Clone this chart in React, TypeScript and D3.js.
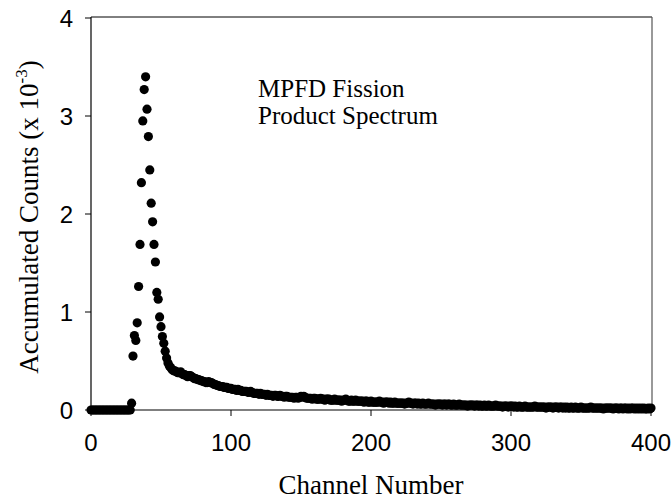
import React from "react";
import * as d3 from "d3";

const baselineStart = 0;
const baselineValues = Array(29).fill(0) as number[];

const peakStart = 29;
const peakValues = [
  0.07, 0.55, 0.76, 0.71, 0.89, 1.26, 1.69, 2.32, 2.95, 3.27, 3.4, 3.07, 2.79,
  2.45, 2.11, 1.92, 1.69, 1.51, 1.2, 1.13, 0.95, 0.85, 0.75,
];

const tailStart = 52;
const tailValues = [
  0.68, 0.6, 0.53, 0.48, 0.45, 0.43, 0.41, 0.4, 0.4, 0.39,
  0.38, 0.38, 0.39, 0.37, 0.36, 0.36, 0.35, 0.34, 0.35, 0.35,
  0.34, 0.33, 0.32, 0.32, 0.31, 0.31, 0.3, 0.3, 0.29, 0.29,
  0.28, 0.28, 0.29, 0.28, 0.28, 0.27, 0.26, 0.26, 0.25, 0.25,
  0.24, 0.24, 0.24, 0.23, 0.23, 0.23, 0.22, 0.22, 0.22, 0.21,
  0.21, 0.21, 0.2, 0.21, 0.2, 0.2, 0.19, 0.19, 0.19, 0.19,
  0.18, 0.18, 0.19, 0.18, 0.17, 0.17, 0.17, 0.17, 0.16, 0.17,
  0.16, 0.16, 0.16, 0.15, 0.16, 0.15, 0.15, 0.15, 0.14, 0.15,
  0.15, 0.14, 0.14, 0.15, 0.14, 0.14, 0.13, 0.14, 0.14, 0.13,
  0.13, 0.13, 0.13, 0.12, 0.13, 0.13, 0.12, 0.13, 0.14, 0.13,
  0.14, 0.13, 0.12, 0.12, 0.12, 0.12, 0.11, 0.12, 0.12, 0.11,
  0.11, 0.11, 0.12, 0.11, 0.11, 0.1, 0.11, 0.11, 0.11, 0.1,
  0.1, 0.1, 0.11, 0.1, 0.1, 0.1, 0.1, 0.09, 0.1, 0.1,
  0.11, 0.1, 0.09, 0.09, 0.1, 0.09, 0.09, 0.1, 0.09, 0.09,
  0.09, 0.09, 0.09, 0.08, 0.09, 0.09, 0.08, 0.08, 0.09, 0.08,
  0.08, 0.08, 0.08, 0.08, 0.09, 0.08, 0.08, 0.07, 0.08, 0.08,
  0.08, 0.07, 0.08, 0.07, 0.07, 0.08, 0.07, 0.07, 0.07, 0.07,
  0.07, 0.07, 0.06, 0.07, 0.07, 0.08, 0.07, 0.07, 0.06, 0.07,
  0.07, 0.06, 0.07, 0.06, 0.06, 0.07, 0.06, 0.06, 0.06, 0.07,
  0.06, 0.06, 0.06, 0.06, 0.05, 0.06, 0.06, 0.06, 0.06, 0.05,
  0.06, 0.06, 0.05, 0.06, 0.06, 0.05, 0.05, 0.06, 0.05, 0.05,
  0.05, 0.06, 0.05, 0.05, 0.05, 0.05, 0.05, 0.04, 0.05, 0.05,
  0.05, 0.05, 0.04, 0.05, 0.05, 0.04, 0.05, 0.04, 0.04, 0.05,
  0.04, 0.04, 0.05, 0.04, 0.04, 0.04, 0.04, 0.05, 0.04, 0.04,
  0.04, 0.04, 0.03, 0.04, 0.04, 0.04, 0.03, 0.04, 0.04, 0.04,
  0.03, 0.04, 0.03, 0.03, 0.04, 0.03, 0.03, 0.03, 0.04, 0.03,
  0.03, 0.03, 0.03, 0.03, 0.03, 0.04, 0.03, 0.03, 0.03, 0.03,
  0.03, 0.03, 0.03, 0.02, 0.03, 0.03, 0.03, 0.03, 0.02, 0.03,
  0.03, 0.03, 0.02, 0.03, 0.03, 0.02, 0.03, 0.02, 0.03, 0.02,
  0.02, 0.03, 0.02, 0.02, 0.03, 0.02, 0.02, 0.02, 0.03, 0.02,
  0.02, 0.02, 0.02, 0.02, 0.02, 0.03, 0.02, 0.02, 0.02, 0.02,
  0.02, 0.02, 0.02, 0.02, 0.01, 0.02, 0.02, 0.02, 0.02, 0.02,
  0.02, 0.01, 0.02, 0.02, 0.02, 0.01, 0.02, 0.02, 0.01, 0.02,
  0.02, 0.01, 0.02, 0.01, 0.02, 0.02, 0.01, 0.02, 0.01, 0.02,
  0.01, 0.02, 0.01, 0.02, 0.01, 0.01, 0.02, 0.01, 0.02,
];

const xTicks = [0, 100, 200, 300, 400];
const yTicks = [0, 1, 2, 3, 4];
const xTitle = "Channel Number";
const yTitleMain = "Accumulated Counts (x 10";
const yTitleSup = "-3";
const annotationLines = ["MPFD Fission", "Product Spectrum"];

type Pt = { x: number; y: number };
const toPts = (start: number, vals: number[]): Pt[] =>
  vals.map((v, i) => ({ x: start + i, y: v }));

const data: Pt[] = [
  ...toPts(baselineStart, baselineValues),
  ...toPts(peakStart, peakValues),
  ...toPts(tailStart, tailValues),
];

export default function App() {
  const W = 671;
  const H = 499;
  const left = 91;
  const right = 651;
  const top = 18;
  const bottom = 410;

  const x = d3.scaleLinear().domain([0, 400]).range([left, right]);
  const y = d3.scaleLinear().domain([0, 4]).range([bottom, top]);

  return (
    <svg
      width={W}
      height={H}
      style={{ position: "absolute", left: 0, top: 0, background: "#fff" }}
    >
      {/* frame top/right */}
      <line x1={left} x2={right + 1} y1={top - 1} y2={top - 1} stroke="#000" strokeWidth={1} />
      <line x1={right + 1} x2={right + 1} y1={top - 1} y2={bottom} stroke="#555" strokeWidth={1.2} />
      {/* axes */}
      <line x1={left} x2={left} y1={top - 1} y2={bottom} stroke="#000" strokeWidth={1.2} />
      <line x1={left} x2={right + 1} y1={bottom} y2={bottom} stroke="#000" strokeWidth={1.2} />
      {yTicks.map((t) => (
        <g key={"y" + t}>
          <line x1={left - 6} x2={left} y1={y(t)} y2={y(t)} stroke="#000" strokeWidth={1} />
          <text
            x={73}
            y={y(t)}
            dy="0.36em"
            textAnchor="end"
            fontFamily="Liberation Sans, Arial, sans-serif"
            fontSize={24}
          >
            {t}
          </text>
        </g>
      ))}
      {xTicks.map((t) => (
        <g key={"x" + t}>
          <line x1={x(t)} x2={x(t)} y1={bottom} y2={bottom + 6} stroke="#000" strokeWidth={1} />
          <text
            x={x(t)}
            y={451}
            textAnchor="middle"
            fontFamily="Liberation Sans, Arial, sans-serif"
            fontSize={24}
          >
            {t}
          </text>
        </g>
      ))}
      {data.map((d, i) => (
        <circle key={i} cx={x(d.x)} cy={y(d.y)} r={4.6} fill="#000" />
      ))}
      <text
        x={(left + right) / 2}
        y={494}
        textAnchor="middle"
        fontFamily="Liberation Serif, Times New Roman, serif"
        fontSize={27}
      >
        {xTitle}
      </text>
      <text
        transform={`translate(38, ${(top + bottom) / 2 + 3}) rotate(-90)`}
        textAnchor="middle"
        fontFamily="Liberation Serif, Times New Roman, serif"
        fontSize={27}
      >
        {yTitleMain}
        <tspan dy={-11} fontSize={17}>
          {yTitleSup}
        </tspan>
        <tspan dy={11}>)</tspan>
      </text>
      {annotationLines.map((line, i) => (
        <text
          key={line}
          x={258}
          y={97 + i * 27}
          fontFamily="Liberation Serif, Times New Roman, serif"
          fontSize={25}
        >
          {line}
        </text>
      ))}
    </svg>
  );
}
